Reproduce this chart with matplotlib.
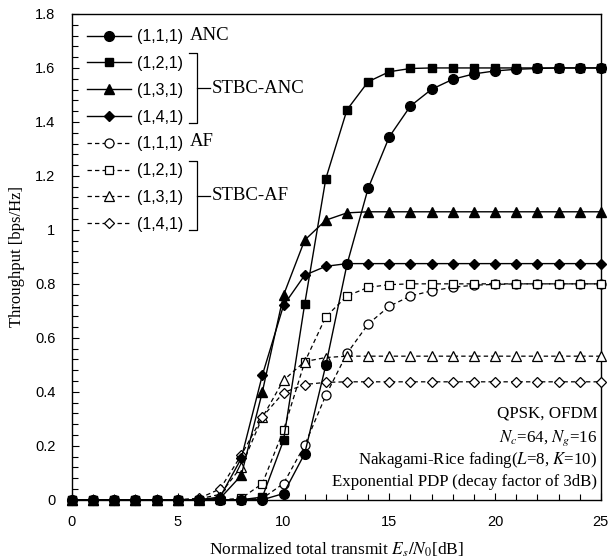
import matplotlib
matplotlib.use("Agg")
import matplotlib.pyplot as plt
from matplotlib.ticker import MultipleLocator
from matplotlib.lines import Line2D

plt.rcParams['mathtext.fontset'] = 'stix'

x = list(range(26))
anc_111 = [0]*9 + [0.0, 0.023, 0.171, 0.499, 0.872, 1.154, 1.345, 1.459, 1.521, 1.558, 1.578, 1.589, 1.595, 1.598, 1.6, 1.6, 1.6]
anc_121 = [0]*9 + [0.01, 0.22, 0.725, 1.19, 1.445, 1.549, 1.586, 1.598] + [1.6]*9
anc_131 = [0]*7 + [0.005, 0.09, 0.40, 0.758, 0.962, 1.036, 1.063] + [1.067]*12
anc_141 = [0]*7 + [0.01, 0.153, 0.462, 0.72, 0.832, 0.865] + [0.875]*13
af_111 = [0]*9 + [0.005, 0.06, 0.202, 0.387, 0.542, 0.651, 0.717, 0.755, 0.774, 0.787, 0.795, 0.798] + [0.8]*5
af_121 = [0]*8 + [0.005, 0.06, 0.258, 0.51, 0.678, 0.755, 0.787, 0.797] + [0.8]*10
af_131 = [0]*6 + [0.003, 0.02, 0.122, 0.305, 0.443, 0.512, 0.527] + [0.532]*13
af_141 = [0]*6 + [0.005, 0.04, 0.165, 0.307, 0.397, 0.427, 0.435] + [0.437]*13

labels = ['(1,1,1)', '(1,2,1)', '(1,3,1)', '(1,4,1)']

fig = plt.figure(figsize=(6.10, 5.59), dpi=100)
ax = fig.add_axes([0.118, 0.106, 0.867, 0.869])

sans = 'Liberation Sans'
serif = 'Liberation Serif'

dash = (0, (3.5, 2.5))
af_series = [(af_111, 'o', 6.5), (af_121, 's', 6.0), (af_131, '^', 6.5), (af_141, 'D', 5.0)]
anc_series = [(anc_111, 'o', 7.0), (anc_121, 's', 6.3), (anc_131, '^', 7.0), (anc_141, 'D', 5.2)]

af_handles = []
for y, m, ms in af_series:
    h, = ax.plot(x, y, color='black', lw=0.9, linestyle=dash, marker=m, ms=ms,
                 mfc='white', mec='black', mew=0.9, clip_on=False, zorder=3)
    af_handles.append(h)
anc_handles = []
for y, m, ms in anc_series:
    h, = ax.plot(x, y, color='black', lw=1.0, linestyle='-', marker=m, ms=ms,
                 mfc='black', mec='black', clip_on=False, zorder=4)
    anc_handles.append(h)

ax.set_xlim(0, 25)
ax.set_ylim(0, 1.8)
ax.xaxis.set_major_locator(MultipleLocator(5))
ax.xaxis.set_minor_locator(MultipleLocator(1))
ax.yaxis.set_major_locator(MultipleLocator(0.2))
ax.yaxis.set_minor_locator(MultipleLocator(0.04))
ax.tick_params(which='both', direction='in', top=False, right=False)
ax.tick_params(which='major', length=5, width=0.8, labelsize=10.5)
ax.tick_params(axis='x', which='major', pad=11)
ax.tick_params(axis='y', which='major', pad=12)
ax.tick_params(which='minor', length=4, width=0.8)
ax.set_yticks([0, 0.2, 0.4, 0.6, 0.8, 1.0, 1.2, 1.4, 1.6, 1.8])
ax.set_yticklabels(['0', '0.2', '0.4', '0.6', '0.8', '1', '1.2', '1.4', '1.6', '1.8'])
for lab in ax.get_xticklabels() + ax.get_yticklabels():
    lab.set_fontfamily(sans)
for sp in ax.spines.values():
    sp.set_linewidth(1.0)

ax.set_xlabel(r'Normalized total transmit $E_s/N_0$[dB]', fontfamily=serif, fontsize=12.5, labelpad=8)
ax.set_ylabel('Throughput [bps/Hz]', fontfamily=serif, fontsize=12, labelpad=7)

leg = ax.legend(anc_handles + af_handles, labels + labels, loc='upper left',
                bbox_to_anchor=(0.0, 1.0), frameon=False, handlelength=2.75,
                handletextpad=0.4, labelspacing=0.74, borderaxespad=0.55,
                prop={'family': sans, 'size': 11.5})

# legend group labels
ax.text(0.223, 0.955, 'ANC', transform=ax.transAxes, fontfamily=serif, fontsize=13.5, va='center', ha='left')
ax.text(0.223, 0.7365, 'AF', transform=ax.transAxes, fontfamily=serif, fontsize=13.5, va='center', ha='left')

def bracket(top, bottom, mid):
    x0, x1, x2 = 0.222, 0.2355, 0.261
    ax.add_line(Line2D([x0, x1, x1, x0], [top, top, bottom, bottom], transform=ax.transAxes,
                       color='black', lw=0.9, clip_on=False))
    ax.add_line(Line2D([x1, x2], [mid, mid], transform=ax.transAxes, color='black', lw=0.9, clip_on=False))
    return mid

m1 = bracket(0.9191, 0.7750, 0.8470)
ax.text(0.2647, m1, 'STBC-ANC', transform=ax.transAxes, fontfamily=serif, fontsize=13.5, va='center', ha='left')
m2 = bracket(0.6964, 0.5543, 0.6254)
ax.text(0.2647, m2, 'STBC-AF', transform=ax.transAxes, fontfamily=serif, fontsize=13.5, va='center', ha='left')

notes = ['QPSK, OFDM', r'$N_c$=64, $N_g$=16', r'Nakagami-Rice fading($L$=8, $K$=10)',
         'Exponential PDP (decay factor of 3dB)']
ys = [0.170, 0.1205, 0.0731, 0.0278]
for t, yy in zip(notes, ys):
    ax.text(0.993, yy, t, transform=ax.transAxes, fontfamily=serif, fontsize=12.2, ha='right', va='baseline')

fig.savefig('out.png', dpi=100)
